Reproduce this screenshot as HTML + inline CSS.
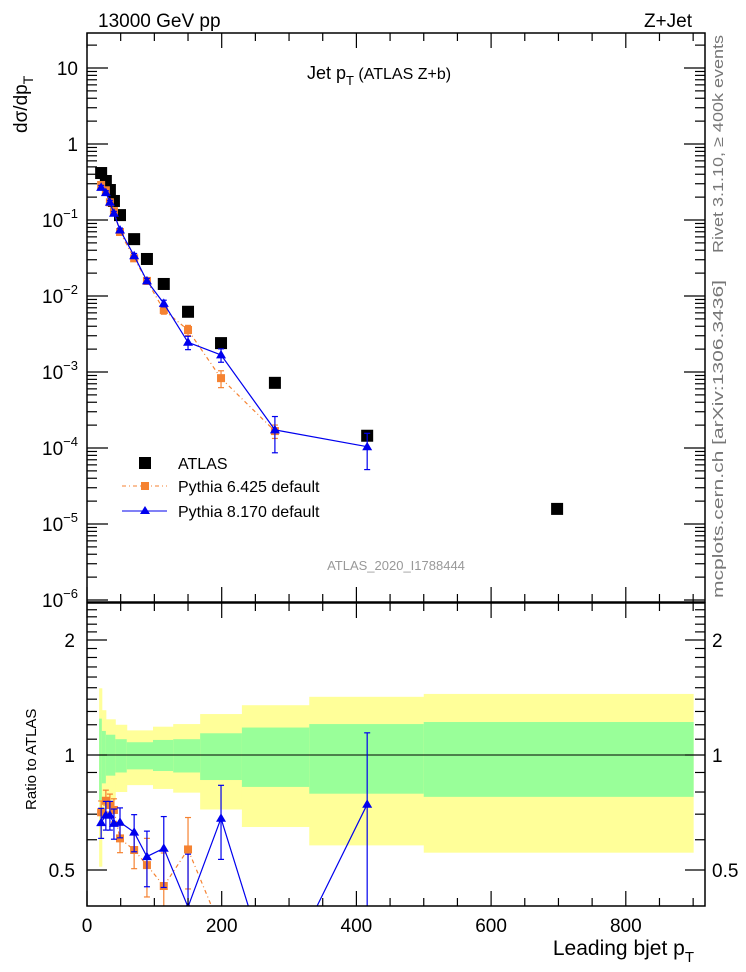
<!DOCTYPE html>
<html><head><meta charset="utf-8">
<style>
html,body{margin:0;padding:0;background:#fff;overflow:hidden;}
svg{display:block;}
svg text{font-family:"Liberation Sans",sans-serif;}
</style></head>
<body>
<svg id="chart" width="746" height="972" viewBox="0 0 746 972" xmlns="http://www.w3.org/2000/svg">
<text x="98" y="27" font-size="19">13000 GeV pp</text>
<text x="692" y="27" font-size="19" text-anchor="end">Z+Jet</text>
<text x="307" y="79" font-size="18">Jet p<tspan font-size="13" dy="6">T</tspan><tspan dy="-6" font-size="16"> (ATLAS Z+b)</tspan></text>
<text transform="translate(27,133) rotate(-90)" font-size="19">dσ/dp<tspan font-size="14" dy="6">T</tspan></text>
<text transform="translate(36,810) rotate(-90)" font-size="15">Ratio to ATLAS</text>
<text x="694" y="955" font-size="21" text-anchor="end">Leading bjet p<tspan font-size="15" dy="7">T</tspan></text>
<text transform="translate(723,253) rotate(-90)" font-size="15" fill="#777" textLength="218" lengthAdjust="spacingAndGlyphs">Rivet 3.1.10, ≥ 400k events</text>
<text transform="translate(723,598) rotate(-90)" font-size="15" fill="#777" textLength="318" lengthAdjust="spacingAndGlyphs">mcplots.cern.ch [arXiv:1306.3436]</text>
<text x="396" y="570" font-size="13" fill="#999" text-anchor="middle">ATLAS_2020_I1788444</text>
<g id="legend">
  <rect x="139" y="457" width="12" height="12" fill="#000"/>
  <text x="178" y="469" font-size="16">ATLAS</text>
  <line x1="122" y1="486" x2="167" y2="486" stroke="#f58231" stroke-dasharray="4,3,1,3"/>
  <rect x="141" y="482" width="8" height="8" fill="#f58231"/>
  <text x="178" y="492" font-size="16">Pythia 6.425 default</text>
  <line x1="122" y1="511" x2="167" y2="511" stroke="#0000ee"/>
  <polygon points="145,506 150,514 140,514" fill="#0000ee"/>
  <text x="178" y="517" font-size="16">Pythia 8.170 default</text>
</g>
</svg>
<script>
const xVals = [21,28,34,40,49,70,89,114,150,199,279,416,698];
const atlasVals = [0.415,0.326,0.248,0.178,0.116,0.056,0.0307,0.0144,0.0062,0.0024,7.2e-4,1.45e-4,1.58e-5];
const py8Vals = [0.269,0.229,0.171,0.1225,0.0738,0.0339,0.0158,0.0080,0.00246,0.00168,1.73e-4,1.04e-4];
const py8Err = [0.06,0.06,0.06,0.06,0.06,0.07,0.08,0.1,0.2,0.2,0.5,0.5];
const py6Vals = [0.289,0.246,0.171,0.131,0.0695,0.0313,0.0158,0.00655,0.00357,8.3e-4,1.67e-4];
const py6Err = [0.05,0.05,0.05,0.06,0.06,0.07,0.1,0.12,0.15,0.25,0.2];
const py8Ratio = [0.665,0.696,0.696,0.662,0.667,0.628,0.542,0.57,0.4,0.683,0.24,0.743];
const py8RatioErr = [0.06,0.06,0.06,0.06,0.06,0.07,0.09,0.12,0.15,0.15,0.05,0.4];
const py6Ratio = [0.708,0.759,0.74,0.718,0.605,0.564,0.515,0.454,0.566,0.35,0.23];
const py6RatioErr = [0.05,0.05,0.05,0.05,0.05,0.06,0.09,0.1,0.12,0.05,0.05];
const bandEdges = [18,22,28,42,59,98,128,168,230,330,500,900];
const yellowHi = [1.495,1.31,1.24,1.2,1.16,1.186,1.205,1.28,1.35,1.42,1.445];
const yellowLo = [0.51,0.72,0.76,0.8,0.834,0.815,0.797,0.72,0.648,0.58,0.555];
const greenHi = [1.245,1.156,1.13,1.1,1.08,1.095,1.1,1.14,1.18,1.205,1.22];
const greenLo = [0.762,0.843,0.883,0.9,0.917,0.908,0.9,0.86,0.825,0.792,0.777];
const xTickLabels = ["0","200","400","600","800"];
const yTickExps = [1,0,-1,-2,-3,-4,-5,-6];
const ratioTicks = [0.5,1,2];

const NS="http://www.w3.org/2000/svg";
const svg=document.getElementById('chart');
const L=87,R=705,MT=33,MB=602,RT=603,RB=906;
const XMAX=(R-L)/134.7*200;
function X(v){return L+v/200*134.7;}
function Y(v){return 68-(Math.log10(v)-1)*76;}
function RY(r){return 755-Math.log2(r)*115;}
function mk(tag,attrs,parent){const e=document.createElementNS(NS,tag);for(const k in attrs)e.setAttribute(k,attrs[k]);(parent||svg).appendChild(e);return e;}

const defs=mk('defs',{});
const c1=mk('clipPath',{id:'cm'},defs);mk('rect',{x:L,y:MT,width:R-L,height:MB-MT},c1);
const c2=mk('clipPath',{id:'cr'},defs);mk('rect',{x:L,y:RT,width:R-L,height:RB-RT},c2);

const gR=mk('g',{'clip-path':'url(#cr)'});


for(let i=0;i<yellowHi.length;i++){
  const x1=X(bandEdges[i]),x2=X(bandEdges[i+1]);
  const y=mk('rect',{x:x1,y:RY(yellowHi[i]),width:x2-x1+0.5,height:RY(yellowLo[i])-RY(yellowHi[i]),fill:'#ffff99'},gR);
  
  
  const g=mk('rect',{x:x1,y:RY(greenHi[i]),width:x2-x1+0.5,height:RY(greenLo[i])-RY(greenHi[i]),fill:'#99ff99'},gR);
  
  
}
mk('line',{x1:L,y1:RY(1),x2:R,y2:RY(1),stroke:'#000','stroke-width':1},gR);

function clampY(y,lo,hi){return Math.max(lo,Math.min(hi,y));}
// clip a segment to y in [lo,hi] by interpolation
function clipSeg(ax,ay,bx,by,lo,hi){
  function cut(px,py,qx,qy){ // move p toward q until within range
    if(py>hi){const t=(hi-py)/(qy-py);return [px+(qx-px)*t,hi];}
    if(py<lo){const t=(lo-py)/(qy-py);return [px+(qx-px)*t,lo];}
    return [px,py];
  }
  if((ay>hi&&by>hi)||(ay<lo&&by<lo))return null;
  const a=cut(ax,ay,bx,by),b=cut(bx,by,ax,ay);
  return [a[0],a[1],b[0],b[1]];
}
function series(parent,xs,vals,errs,yf,color,dash,shape,name,isRatio,top,bot){
  const n=vals.length;
  let d='';
  for(let i=0;i<n-1;i++){
    const s=clipSeg(X(xs[i]),yf(vals[i]),X(xs[i+1]),yf(vals[i+1]),top-2,bot+2);
    if(s)d+=`M${s[0].toFixed(1)},${s[1].toFixed(1)}L${s[2].toFixed(1)},${s[3].toFixed(1)}`;
  }
  const pl=mk('path',{d:d,fill:'none',stroke:color,'stroke-width':1.2,'stroke-dasharray':dash},parent);
  
  
  for(let i=0;i<n;i++){
    const cx=X(xs[i]),cy=yf(vals[i]);
    const lo=isRatio?vals[i]-errs[i]:vals[i]*(1-errs[i]);
    const hi=isRatio?vals[i]+errs[i]:vals[i]*(1+errs[i]);
    const y1=clampY(yf(hi),top,bot);
    const y2=lo>0?clampY(yf(lo),top,bot):bot;
    if(y2>y1)mk('line',{x1:cx,y1:y1,x2:cx,y2:y2,stroke:color,'stroke-width':1.2},parent);
    if(y1>top&&y1<bot)mk('line',{x1:cx-3,y1:y1,x2:cx+3,y2:y1,stroke:color,'stroke-width':1.2},parent);
    if(y2<bot&&y2>top)mk('line',{x1:cx-3,y1:y2,x2:cx+3,y2:y2,stroke:color,'stroke-width':1.2},parent);
    if(cy<top-6||cy>bot+6)continue;
    let m;
    if(shape==='sq')m=mk('rect',{x:cx-4,y:cy-4,width:8,height:8,fill:color},parent);
    else m=mk('polygon',{points:`${cx},${cy-5} ${cx+5},${cy+3.5} ${cx-5},${cy+3.5}`,fill:color},parent);
    
    
  }
}
series(gR,xVals,py6Ratio,py6RatioErr,RY,'#f58231','4,3,1,3','sq','py6-ratio',true,RT,RB);
series(gR,xVals,py8Ratio,py8RatioErr,RY,'#0000ee','','tri','py8-ratio',true,RT,RB);

const gM=mk('g',{'clip-path':'url(#cm)'});


for(let i=0;i<atlasVals.length;i++){
  const r=mk('rect',{x:X(xVals[i])-6,y:Y(atlasVals[i])-6,width:12,height:12,fill:'#000'},gM);
  
  
}
series(gM,xVals,py6Vals,py6Err,Y,'#f58231','4,3,1,3','sq','py6',false,MT,MB);
series(gM,xVals,py8Vals,py8Err,Y,'#0000ee','','tri','py8',false,MT,MB);

mk('rect',{x:L,y:MT,width:R-L,height:MB-MT,fill:'none',stroke:'#000','stroke-width':1.5});
mk('rect',{x:L,y:RT,width:R-L,height:RB-RT,fill:'none',stroke:'#000','stroke-width':1.5});

function ln(x1,y1,x2,y2){mk('line',{x1,y1,x2,y2,stroke:'#000','stroke-width':1.2});}
for(let v=0;v<=XMAX;v+=50){
  const x=X(v),maj=v%200===0,len=maj?15:8;
  ln(x,MT,x,MT+len);ln(x,MB,x,MB-len);ln(x,RT,x,RT+len);ln(x,RB,x,RB-len);
}
xTickLabels.forEach(s=>{
  const t=mk('text',{x:X(+s),y:932,'font-size':19,'text-anchor':'middle'});t.textContent=s;
  
  
});
yTickExps.forEach(e=>{
  const y=Y(Math.pow(10,e));
  if(y>=MT-1&&y<=MB+1){ln(L,y,L+21,y);ln(R,y,R-21,y);}
  for(let k=2;k<=9;k++){const yy=Y(k*Math.pow(10,e));if(yy>MT&&yy<MB){ln(L,yy,L+10,yy);ln(R,yy,R-10,yy);}}
  const t=mk('text',{x:78,y:y+7,'font-size':19,'text-anchor':'end'});
  if(e===1)t.textContent='10';else if(e===0)t.textContent='1';
  else{t.textContent='10';const ts=mk('tspan',{dy:-9,'font-size':13},t);ts.textContent=String(e).replace('-','−');}
  
  
});
for(let r=0.4;r<=2.5;r+=0.1){
  const rr=Math.round(r*10)/10;const y=RY(rr);
  if(y<RT||y>RB)continue;
  const maj=ratioTicks.includes(rr);const len=maj?20:10;
  ln(L,y,L+len,y);ln(R,y,R-len,y);
}
ratioTicks.forEach(r=>{
  const y=RY(r);
  const t=mk('text',{x:75,y:y+7,'font-size':19,'text-anchor':'end'});t.textContent=String(r);
  
  
  const t2=mk('text',{x:712,y:y+7,'font-size':19});t2.textContent=String(r);
  
  
});
</script>
</body></html>
